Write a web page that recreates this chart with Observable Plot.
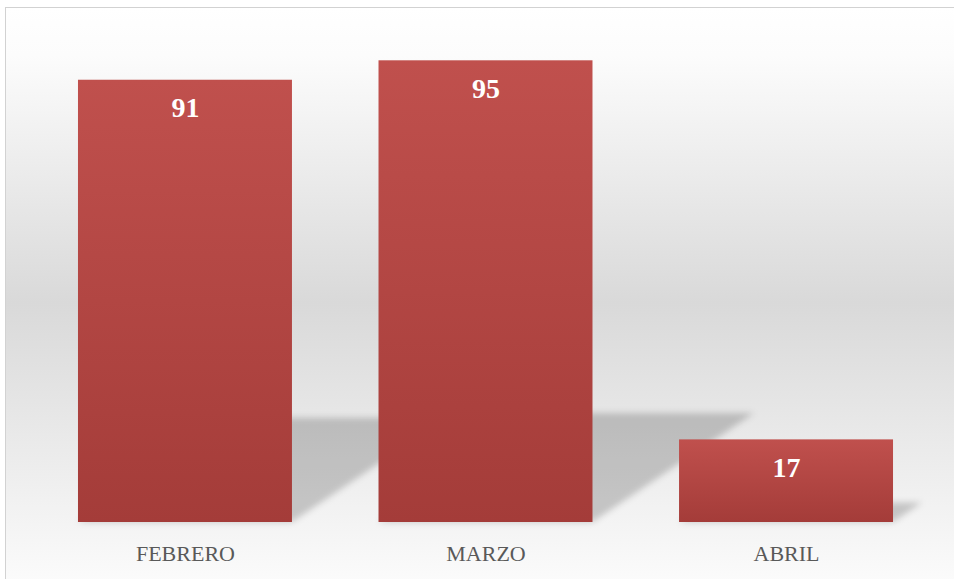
<!DOCTYPE html>
<html>
<head>
<meta charset="utf-8">
<script src="https://cdn.jsdelivr.net/npm/d3@7"></script>
<script src="https://cdn.jsdelivr.net/npm/@observablehq/plot@0.6"></script>
<style>
  html, body { margin: 0; padding: 0; background: #ffffff; width: 954px; height: 579px; overflow: hidden; }
  #frame {
    position: absolute; left: 5px; top: 7px; width: 980px; height: 590px;
    border-left: 1.5px solid #d2d2d2; border-top: 1.5px solid #d2d2d2;
    background: linear-gradient(to bottom, #ffffff 0%, #fcfcfc 8%, #d9d9d9 50%, #fdfdfd 100%);
  }
  #chart { position: absolute; left: 0; top: 0; }
</style>
</head>
<body>
<div id="frame"></div>
<div id="chart"></div>
<script>
const months = ["FEBRERO", "MARZO", "ABRIL"];
const values = [91, 95, 17];
const data = months.map((m, i) => ({month: m, value: values[i]}));

const plot = Plot.plot({
  width: 954,
  height: 579,
  marginTop: 36,
  marginBottom: 57,
  marginLeft: 35,
  marginRight: 18,
  style: {background: "transparent", fontFamily: "'Liberation Serif', serif", overflow: "visible"},
  x: {domain: months, paddingInner: 0.288, paddingOuter: 0.143, round: false, label: null},
  y: {domain: [0, 100], axis: null},
  marks: [
    Plot.barY(data, {x: "month", y: "value", fill: "url(#barGrad)"}),
    Plot.text(data, {
      x: "month", y: "value", text: d => String(d.value),
      dy: 28, fill: "white", fontWeight: "bold", fontSize: 28, lineAnchor: "middle",
      fontFamily: "'Liberation Serif', serif"
    }),
    Plot.axisX({tickSize: 0, tickPadding: 23, fontSize: 22, color: "#595959", label: null,
      fontFamily: "'Liberation Serif', serif"})
  ]
});

document.getElementById("chart").appendChild(plot);

const svg = d3.select(plot);
const defs = svg.insert("defs", ":first-child");
const grad = defs.append("linearGradient").attr("id", "barGrad")
  .attr("x1", 0).attr("y1", 0).attr("x2", 0).attr("y2", 1);
grad.append("stop").attr("offset", "0%").attr("stop-color", "#c0504d");
grad.append("stop").attr("offset", "100%").attr("stop-color", "#a43c39");
defs.append("filter").attr("id", "shBlur").attr("x", "-20%").attr("y", "-20%")
  .attr("width", "140%").attr("height", "140%")
  .append("feGaussianBlur").attr("stdDeviation", 3);

const xs = plot.scale("x");
const ys = plot.scale("y");
const bw = xs.bandwidth;
const y0 = ys.apply(0);
const barG = plot.querySelector('g[aria-label="bar"]');
const sh = d3.create("svg:g").attr("filter", "url(#shBlur)");
data.forEach(d => {
  const x0 = xs.apply(d.month), x1 = x0 + bw;
  const h = y0 - ys.apply(d.value);
  const dx = 0.35 * h, dy = 0.236 * h;
  sh.append("polygon")
    .attr("points", [[x0, y0], [x1, y0], [x1 + dx, y0 - dy], [x0 + dx, y0 - dy]].map(p => p.join(",")).join(" "))
    .attr("fill", "#000").attr("fill-opacity", 0.19);
});
barG.parentNode.insertBefore(sh.node(), barG);
</script>
</body>
</html>
